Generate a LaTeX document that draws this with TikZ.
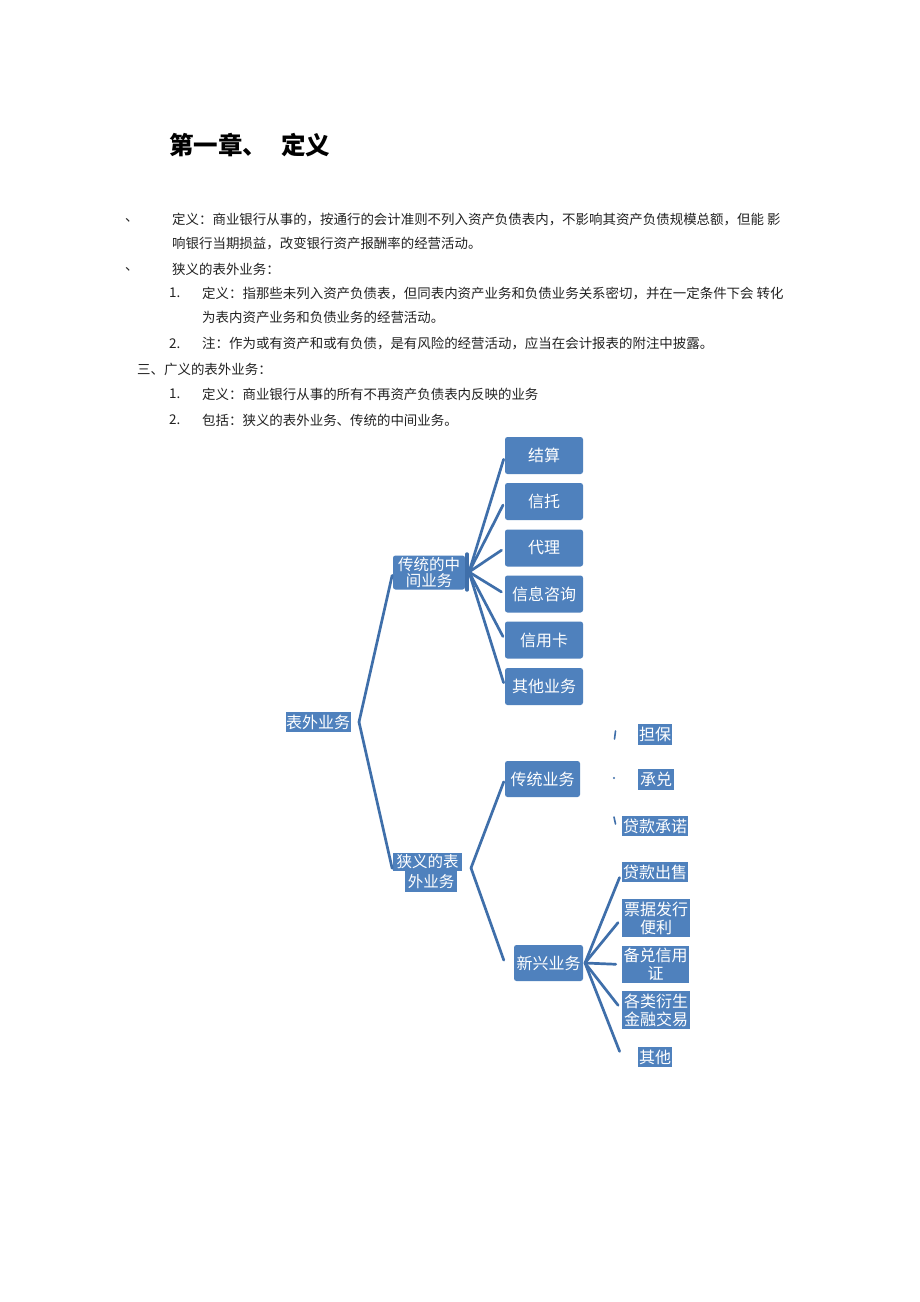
\documentclass[tikz,border=0pt]{standalone}
\usepackage{fontspec}
\setmainfont{Noto Sans CJK SC}
\definecolor{boxblue}{HTML}{4F81BD}
\definecolor{lineblue}{HTML}{3F6FAA}
\definecolor{textgray}{HTML}{222222}
\begin{document}
\begin{tikzpicture}[x=1pt,y=-1pt,
  txt/.style={anchor=west, inner sep=0pt, text=textgray, font=\fontsize{13.45}{16}\selectfont},
  box/.style={fill=boxblue, text=white, inner sep=0pt, rounded corners=2.5pt, align=center, font=\fontsize{16}{18}\selectfont},
  lab/.style={fill=boxblue, text=white, inner sep=0pt, align=center, font=\fontsize{16}{18}\selectfont},
  conn/.style={draw=lineblue, line width=2.7pt, line join=round, line cap=round}]
\fill[white] (0,0) rectangle (920,1302);
\useasboundingbox (0,0) rectangle (920,1302);

% title
\node[anchor=west, inner sep=0pt, font=\fontsize{24.5}{28}\selectfont\bfseries] (title) at (169,145) {第一章、\hspace{14pt}定义};

% body text
\node[txt] (m1) at (125,220) {、};
\node[txt] (l1) at (172,220) {定义：商业银行从事的，按通行的会计准则不列入资产负债表内，不影响其资产负债规模总额，但能 影};
\node[txt] (l2) at (172,244) {响银行当期损益，改变银行资产报酬率的经营活动。};
\node[txt] (m3) at (125,269) {、};
\node[txt] (l3) at (172,269) {狭义的表外业务：};
\node[txt] (n4) at (169,293) {1.};
\node[txt] (l4) at (202,293) {定义：指那些未列入资产负债表，但同表内资产业务和负债业务关系密切，并在一定条件下会 转化};
\node[txt] (l5) at (202,317) {为表内资产业务和负债业务的经营活动。};
\node[txt] (n6) at (169,344) {2.};
\node[txt] (l6) at (202,344) {注：作为或有资产和或有负债，是有风险的经营活动，应当在会计报表的附注中披露。};
\node[txt] (l7) at (137,369) {三、广义的表外业务：};
\node[txt] (n8) at (169,394) {1.};
\node[txt] (l8) at (202,394) {定义：商业银行从事的所有不再资产负债表内反映的业务};
\node[txt] (n9) at (169,420) {2.};
\node[txt] (l9) at (202,420) {包括：狭义的表外业务、传统的中间业务。};

% diagram nodes
\node[lab, minimum width=65pt, minimum height=20pt] (root) at (318,722) {表外业务};
\node[box, minimum width=72pt, minimum height=34pt, font=\fontsize{15.5}{16}\selectfont] (tz) at (429,572.5) {传统的中\\间业务};
\node[lab, minimum width=69pt, minimum height=18pt, font=\fontsize{15.5}{17}\selectfont] (xy1) at (427.5,862) {狭义的表};
\node[lab, minimum width=52pt, minimum height=21pt, font=\fontsize{15.5}{17}\selectfont] (xy2) at (431,881.5) {外业务};

\node[box, minimum width=78pt, minimum height=37pt] (c1) at (544,455.5) {结算};
\node[box, minimum width=78pt, minimum height=37pt] (c2) at (544,501.5) {信托};
\node[box, minimum width=78pt, minimum height=37pt] (c3) at (544,548) {代理};
\node[box, minimum width=78pt, minimum height=37pt] (c4) at (544,594) {信息咨询};
\node[box, minimum width=78pt, minimum height=37pt] (c5) at (544,640) {信用卡};
\node[box, minimum width=78pt, minimum height=37pt] (c6) at (544,686.5) {其他业务};

\node[box, minimum width=75pt, minimum height=36pt] (ct) at (542.5,779) {传统业务};
\node[box, minimum width=69pt, minimum height=36pt] (xx) at (548.5,963) {新兴业务};

\node[lab, minimum width=34pt, minimum height=21pt] (d1) at (655,734.5) {担保};
\node[lab, minimum width=36pt, minimum height=21pt] (d2) at (656,779.5) {承兑};
\node[lab, minimum width=66pt, minimum height=20pt] (d3) at (655,826) {贷款承诺};

\node[lab, minimum width=66pt, minimum height=20pt] (e1) at (655,872) {贷款出售};
\node[lab, minimum width=68pt, minimum height=38pt] (e2) at (656,918) {票据发行\\便利};
\node[lab, minimum width=67pt, minimum height=37pt] (e3) at (655.5,964.5) {备兑信用\\证};
\node[lab, minimum width=68pt, minimum height=38pt] (e4) at (656,1010) {各类衍生\\金融交易};
\node[lab, minimum width=34pt, minimum height=20pt] (e5) at (655,1057) {其他};

% connectors
\coordinate (rv) at (359,722);
\draw[conn, shorten >=3pt] (rv) -- (tz.west);
\draw[conn, shorten >=3pt] (rv) -- (xy1.south west);

\coordinate (tzv) at (469,572);
\draw[conn, line width=3.4pt] (467,554) -- (467,590);
\foreach \c in {c1,c2,c3,c4,c5,c6}{
  \draw[conn, shorten >=4pt] (tzv) -- (\c.west);
}

\coordinate (xv) at (471,868);
\draw[conn, shorten >=3pt] (xv) -- (ct.west);
\draw[conn, shorten >=3pt] (xv) -- (xx.west -| ct.west);

\coordinate (xxv) at (585,963);
\draw[conn, shorten >=6pt] (xxv) -- (e1.west);
\draw[conn, shorten >=6pt] (xxv) -- (e2.west);
\draw[conn, shorten >=6pt] (xxv) -- (e3.west);
\draw[conn, shorten >=6pt] (xxv) -- (e4.west);
\draw[conn, shorten >=6pt] (xxv) -- (e5.west -| e1.west);

% broken connector remnants of 传统业务
\draw[lineblue, line width=1.6pt, line cap=round] (615.5,731) -- (614.5,739);
\fill[lineblue] (614,778) circle (1.2pt);
\draw[lineblue, line width=1.6pt, line cap=round] (614,817) -- (615.5,824);
\end{tikzpicture}
\end{document}
